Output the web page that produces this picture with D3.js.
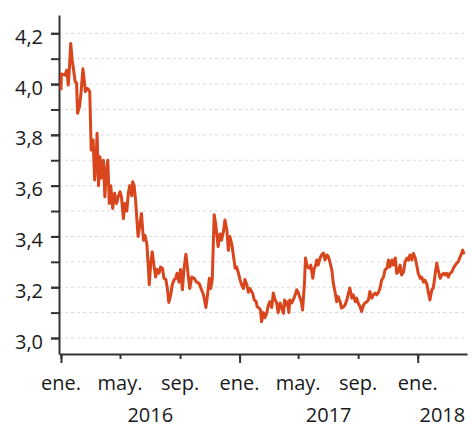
<!DOCTYPE html>
<html>
<head>
<meta charset="utf-8">
<script src="https://cdn.jsdelivr.net/npm/d3@7"></script>
<style>
  body { margin: 0; background: #fff; }
  text { font-family: "Open Sans", "Noto Sans", sans-serif; fill: #1a1a1a; }
</style>
</head>
<body>
<div id="chart"></div>
<script>
// series
const dates = [
  "2016-01-01","2016-01-02","2016-01-09","2016-01-13","2016-01-16","2016-01-18","2016-01-21","2016-01-24",
  "2016-01-26","2016-01-30","2016-02-02","2016-02-04","2016-02-08","2016-02-11","2016-02-15","2016-02-17",
  "2016-02-20","2016-02-23","2016-02-26","2016-02-29","2016-03-03","2016-03-07","2016-03-10","2016-03-13",
  "2016-03-15","2016-03-18","2016-03-21","2016-03-24","2016-03-28","2016-03-31","2016-04-03","2016-04-06",
  "2016-04-09","2016-04-12","2016-04-16","2016-04-20","2016-04-24","2016-04-28","2016-05-01",
  "2016-05-04","2016-05-08","2016-05-11","2016-05-15","2016-05-18","2016-05-21","2016-05-25","2016-05-27",
  "2016-05-30","2016-06-02","2016-06-07","2016-06-11","2016-06-14","2016-06-18","2016-06-21","2016-06-25",
  "2016-06-28","2016-06-30","2016-07-03","2016-07-06","2016-07-10","2016-07-13","2016-07-16","2016-07-20",
  "2016-07-23","2016-07-27","2016-07-30","2016-08-03","2016-08-06","2016-08-09","2016-08-13","2016-08-16",
  "2016-08-20","2016-08-23","2016-08-26","2016-08-30","2016-09-02","2016-09-06","2016-09-09","2016-09-13",
  "2016-09-15","2016-09-18","2016-09-21","2016-09-25","2016-09-30","2016-10-05","2016-10-10","2016-10-15",
  "2016-10-19","2016-10-24","2016-10-28","2016-10-31","2016-11-03","2016-11-06","2016-11-10","2016-11-13",
  "2016-11-18","2016-11-22","2016-11-25","2016-11-29","2016-12-02","2016-12-06","2016-12-09","2016-12-12",
  "2016-12-16","2016-12-19","2016-12-23","2016-12-26","2016-12-29","2017-01-02","2017-01-05","2017-01-09",
  "2017-01-12","2017-01-16","2017-01-19","2017-01-22",
  "2017-01-28","2017-01-31","2017-02-04","2017-02-06","2017-02-10","2017-02-13","2017-02-15","2017-02-19",
  "2017-02-22","2017-02-26","2017-03-01","2017-03-04","2017-03-08","2017-03-11","2017-03-15","2017-03-18",
  "2017-03-21","2017-03-25","2017-03-28","2017-04-01","2017-04-03","2017-04-06","2017-04-09","2017-04-12",
  "2017-04-14","2017-04-18","2017-04-21","2017-04-25","2017-04-28","2017-05-01","2017-05-05","2017-05-08",
  "2017-05-10","2017-05-14","2017-05-16","2017-05-20","2017-05-24","2017-05-27","2017-05-31","2017-06-03",
  "2017-06-05","2017-06-08","2017-06-11","2017-06-15","2017-06-18","2017-06-22","2017-06-25","2017-06-29",
  "2017-07-02","2017-07-05","2017-07-09","2017-07-12","2017-07-16","2017-07-19","2017-07-22","2017-07-26",
  "2017-07-29","2017-08-02","2017-08-05","2017-08-09","2017-08-12","2017-08-15","2017-08-19","2017-08-22",
  "2017-08-26","2017-08-29","2017-09-01","2017-09-05","2017-09-08","2017-09-12","2017-09-15","2017-09-19",
  "2017-09-22","2017-09-25","2017-09-29","2017-10-02","2017-10-06","2017-10-09","2017-10-12","2017-10-16",
  "2017-10-19","2017-10-23","2017-10-26","2017-10-30","2017-11-02","2017-11-05",
  "2017-11-09","2017-11-12","2017-11-16","2017-11-19","2017-11-22","2017-11-26","2017-11-29","2017-12-03",
  "2017-12-06","2017-12-10","2017-12-13","2017-12-16","2017-12-20","2017-12-23","2017-12-27","2017-12-30",
  "2018-01-02","2018-01-06","2018-01-09","2018-01-13","2018-01-16","2018-01-20","2018-01-23","2018-01-26",
  "2018-01-30","2018-02-02","2018-02-06","2018-02-09","2018-02-12","2018-02-16","2018-02-19","2018-02-23",
  "2018-02-26","2018-03-01","2018-03-05","2018-03-08","2018-03-12","2018-03-15","2018-03-19","2018-03-22",
  "2018-03-25","2018-03-29","2018-04-01","2018-04-03","2018-04-06"
];
const values = [
  3.976,4.04,4.035,4.055,3.996,4.05,4.16,4.094,
  4.068,4.01,4.003,3.885,3.91,3.964,4.06,4.029,
  3.97,3.983,3.98,3.97,3.74,3.78,3.622,3.70,
  3.806,3.60,3.714,3.63,3.70,3.556,3.66,3.70,
  3.53,3.60,3.51,3.57,3.53,3.56,3.576,
  3.556,3.47,3.53,3.50,3.57,3.60,3.56,3.615,
  3.60,3.54,3.40,3.45,3.49,3.385,3.405,3.37,
  3.28,3.21,3.295,3.34,3.28,3.24,3.27,3.255,
  3.28,3.275,3.235,3.23,3.195,3.14,3.17,3.21,
  3.23,3.235,3.255,3.22,3.27,3.19,3.27,3.33,
  3.30,3.24,3.195,3.24,3.235,3.22,3.215,3.19,
  3.17,3.12,3.18,3.235,3.195,3.23,3.485,3.45,
  3.36,3.41,3.385,3.42,3.465,3.425,3.345,3.40,
  3.37,3.33,3.275,3.28,3.26,3.23,3.21,3.195,
  3.23,3.21,3.18,3.195,
  3.175,3.15,3.143,3.123,3.118,3.11,3.064,3.10,
  3.08,3.10,3.13,3.143,3.12,3.177,3.15,3.138,
  3.10,3.138,3.12,3.097,3.15,3.13,3.143,3.10,
  3.15,3.138,3.15,3.17,3.19,3.18,3.157,3.14,
  3.11,3.216,3.315,3.28,3.275,3.287,3.235,3.275,
  3.28,3.307,3.287,3.315,3.327,3.334,3.307,3.327,
  3.32,3.30,3.268,3.216,3.177,3.143,3.163,3.143,
  3.118,3.123,3.13,3.15,3.177,3.197,3.157,3.17,
  3.143,3.157,3.138,3.123,3.104,3.13,3.138,3.143,
  3.15,3.183,3.157,3.17,3.177,3.17,3.177,3.197,
  3.228,3.24,3.268,3.275,3.307,3.28,
  3.307,3.287,3.315,3.255,3.26,3.287,3.248,3.26,
  3.30,3.315,3.307,3.327,3.307,3.333,3.315,3.287,
  3.255,3.235,3.24,3.22,3.228,3.21,3.177,3.15,
  3.19,3.197,3.255,3.295,3.268,3.235,3.248,3.255,
  3.248,3.255,3.24,3.255,3.26,3.275,3.287,3.295,
  3.30,3.32,3.333,3.346,3.33
];

const yLabelTicks = [3.0, 3.2, 3.4, 3.6, 3.8, 4.0, 4.2];
const yGridTicks = [3.0, 3.1, 3.2, 3.3, 3.4, 3.5, 3.6, 3.7, 3.8, 3.9, 4.0, 4.1, 4.2];
const monthTicks = ["2016-01-01","2016-05-01","2016-09-01","2017-01-01","2017-05-01","2017-09-01","2018-01-01"];
const monthLabels = ["ene.","may.","sep.","ene.","may.","sep.","ene."];
const yearTicks = ["2016-01-01","2017-01-01","2018-01-01"];
const yearLabels = ["2016","2017","2018"];

const W = 472, H = 428;
const margin = { left: 59, right: 467, top: 15, bottom: 354 };
const fontSize = "20px";
const parse = d3.timeParse("%Y-%m-%d");
const data = dates.map((d, i) => ({ date: parse(d), value: values[i] }));

const svg = d3.select("#chart").append("svg")
  .attr("width", W)
  .attr("height", H);

const x = d3.scaleTime()
  .domain([parse("2015-12-28"), parse("2018-04-12")])
  .range([margin.left, margin.right]);

const y = d3.scaleLinear()
  .domain([2.937, 4.272])
  .range([margin.bottom, margin.top]);

const es = d3.formatLocale({ decimal: ",", thousands: ".", grouping: [3], currency: ["", " €"] });
const fmt = es.format(".1f");

// dashed gridlines
svg.append("g")
  .selectAll("line")
  .data(yGridTicks)
  .join("line")
  .attr("x1", margin.left)
  .attr("x2", margin.right)
  .attr("y1", d => y(d))
  .attr("y2", d => y(d))
  .attr("stroke", "#d9d9d9")
  .attr("stroke-width", 1)
  .attr("stroke-dasharray", "3,3");

// y axis: minor ticks then labelled ticks
const yMinor = svg.append("g")
  .attr("transform", `translate(${margin.left},0)`)
  .call(d3.axisLeft(y).tickValues(yGridTicks).tickSize(8).tickSizeOuter(0).tickFormat(""));
yMinor.select(".domain").remove();

const yAxis = svg.append("g")
  .attr("transform", `translate(${margin.left},0)`)
  .call(d3.axisLeft(y).tickValues(yLabelTicks).tickSize(8).tickPadding(8).tickSizeOuter(0).tickFormat(fmt));
yAxis.selectAll("text")
  .style("font-size", fontSize)
  .attr("dy", "0.5em")
  .attr("fill", "#1a1a1a");

// x axis: minor month ticks, major year ticks
const xMinor = svg.append("g")
  .attr("transform", `translate(0,${margin.bottom})`)
  .call(d3.axisBottom(x).tickValues(monthTicks.map(parse)).tickSize(5).tickSizeOuter(0).tickFormat(""));
xMinor.select(".domain").remove();

const xAxis = svg.append("g")
  .attr("transform", `translate(0,${margin.bottom})`)
  .call(d3.axisBottom(x).tickValues(yearTicks.map(parse)).tickSize(9).tickSizeOuter(0).tickFormat(""));

svg.selectAll(".domain, .tick line")
  .attr("stroke", "#333")
  .attr("stroke-width", 2);

// month labels
svg.append("g")
  .selectAll("text")
  .data(monthTicks)
  .join("text")
  .attr("x", d => x(parse(d)))
  .attr("y", 390)
  .attr("text-anchor", "middle")
  .style("font-size", fontSize)
  .text((d, i) => monthLabels[i]);

// year labels centred on the visible part of each year
svg.append("g")
  .selectAll("text")
  .data(yearTicks)
  .join("text")
  .attr("x", d => {
    const s = parse(d);
    const e = d3.timeYear.offset(s, 1);
    const a = Math.max(x(s), margin.left), b = Math.min(x(e), margin.right);
    return (a + b) / 2;
  })
  .attr("y", 422)
  .attr("text-anchor", "middle")
  .style("font-size", fontSize)
  .text((d, i) => yearLabels[i]);

// the series
const line = d3.line()
  .x(d => x(d.date))
  .y(d => y(d.value));

svg.append("path")
  .datum(data)
  .attr("fill", "none")
  .attr("stroke", "#d9461e")
  .attr("stroke-width", 3)
  .attr("stroke-linejoin", "round")
  .attr("d", line);
</script>
</body>
</html>
